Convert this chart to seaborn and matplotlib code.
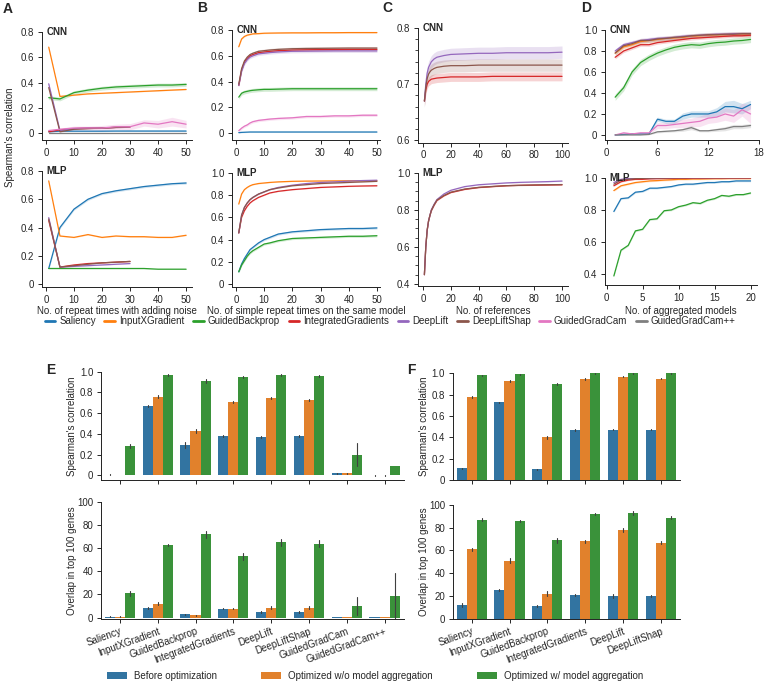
import numpy as np
import pandas as pd
import matplotlib
matplotlib.use("Agg")
import matplotlib.pyplot as plt
import seaborn as sns
from matplotlib.ticker import AutoMinorLocator, FuncFormatter, FixedLocator
from matplotlib.lines import Line2D
from matplotlib.patches import Patch

sns.set_style("ticks")
plt.rcParams['font.family'] = ['Liberation Sans', 'DejaVu Sans']
plt.rcParams['axes.linewidth'] = 0.7
plt.rcParams['xtick.major.width'] = 0.7
plt.rcParams['ytick.major.width'] = 0.7
plt.rcParams['xtick.major.size'] = 3
plt.rcParams['ytick.major.size'] = 3
plt.rcParams['ytick.minor.size'] = 2
plt.rcParams['ytick.minor.width'] = 0.6
plt.rcParams['xtick.major.pad'] = 2.5
plt.rcParams['ytick.major.pad'] = 2.5
plt.rcParams['axes.edgecolor'] = '#222222'

methods = ["Saliency", "InputXGradient", "GuidedBackprop", "IntegratedGradients",
           "DeepLift", "DeepLiftShap", "GuidedGradCam", "GuidedGradCam++"]
palette = dict(zip(methods, sns.color_palette("tab10", 8)))

# ---------------- Panel A: repeat times with adding noise ----------------
A_x = [1, 5, 10, 15, 20, 25, 30, 35, 40, 45, 50]
A_x30 = [1, 5, 10, 15, 20, 25, 30]
A_cnn = {
    "Saliency": (A_x, [0.01, 0.015, 0.015, 0.015, 0.015, 0.016, 0.016, 0.016, 0.016, 0.016, 0.016], 0.004),
    "InputXGradient": (A_x, [0.68, 0.29, 0.30, 0.31, 0.315, 0.32, 0.325, 0.33, 0.335, 0.34, 0.345], 0.003),
    "GuidedBackprop": (A_x, [0.28, 0.27, 0.32, 0.34, 0.355, 0.365, 0.37, 0.375, 0.38, 0.38, 0.385], 0.015),
    "IntegratedGradients": (A_x30, [0.01, 0.025, 0.035, 0.04, 0.04, 0.045, 0.05], 0.004),
    "DeepLift": (A_x30, [0.39, 0.02, 0.035, 0.04, 0.04, 0.045, 0.05], 0.004),
    "DeepLiftShap": (A_x30, [0.36, 0.01, 0.03, 0.035, 0.04, 0.045, 0.05], 0.004),
    "GuidedGradCam": (A_x, [0.02, 0.03, 0.04, 0.04, 0.04, 0.05, 0.05, 0.08, 0.07, 0.09, 0.07],
                      [0.005, 0.01, 0.015, 0.015, 0.02, 0.02, 0.025, 0.025, 0.03, 0.035, 0.03]),
    "GuidedGradCam++": (A_x, [0.0] * 11, 0.0),
}
A_mlp = {
    "Saliency": (A_x, [0.11, 0.40, 0.53, 0.60, 0.64, 0.66, 0.675, 0.69, 0.70, 0.71, 0.715], 0.008),
    "InputXGradient": (A_x, [0.73, 0.34, 0.33, 0.35, 0.33, 0.34, 0.335, 0.335, 0.33, 0.33, 0.345], 0.003),
    "GuidedBackprop": (A_x, [0.11, 0.11, 0.11, 0.11, 0.11, 0.11, 0.11, 0.11, 0.105, 0.105, 0.105], 0.002),
    "IntegratedGradients": (A_x30, [0.45, 0.12, 0.135, 0.145, 0.15, 0.155, 0.16], 0.002),
    "DeepLift": (A_x30, [0.47, 0.12, 0.125, 0.13, 0.135, 0.14, 0.145], 0.002),
    "DeepLiftShap": (A_x30, [0.46, 0.12, 0.13, 0.14, 0.15, 0.155, 0.16], 0.002),
}

# ---------------- Panel B: simple repeat times ----------------
B_x = [1, 2, 3, 4, 5, 6, 8, 10, 12, 15, 20, 25, 30, 35, 40, 45, 50]
B_cnn = {
    "Saliency": (B_x, [0.005, 0.007, 0.008, 0.009, 0.01, 0.01, 0.01, 0.01, 0.01, 0.01, 0.01, 0.01, 0.01, 0.01, 0.01, 0.01, 0.01], 0.003),
    "InputXGradient": (B_x, [0.67, 0.73, 0.75, 0.76, 0.765, 0.77, 0.772, 0.775, 0.776, 0.777, 0.778, 0.778, 0.779, 0.779, 0.78, 0.78, 0.78], 0.004),
    "GuidedBackprop": (B_x, [0.28, 0.31, 0.32, 0.325, 0.33, 0.333, 0.337, 0.34, 0.34, 0.342, 0.345, 0.345, 0.345, 0.345, 0.345, 0.345, 0.345], 0.015),
    "IntegratedGradients": (B_x, [0.37, 0.49, 0.55, 0.58, 0.60, 0.61, 0.625, 0.63, 0.635, 0.64, 0.645, 0.647, 0.648, 0.649, 0.65, 0.65, 0.65], 0.008),
    "DeepLift": (B_x, [0.37, 0.48, 0.54, 0.57, 0.59, 0.60, 0.615, 0.62, 0.625, 0.63, 0.635, 0.636, 0.637, 0.638, 0.638, 0.638, 0.638], 0.012),
    "DeepLiftShap": (B_x, [0.38, 0.50, 0.56, 0.59, 0.61, 0.62, 0.635, 0.64, 0.645, 0.65, 0.655, 0.657, 0.658, 0.659, 0.66, 0.66, 0.66], 0.012),
    "GuidedGradCam": (B_x, [0.02, 0.04, 0.055, 0.065, 0.08, 0.09, 0.10, 0.105, 0.11, 0.115, 0.12, 0.13, 0.13, 0.135, 0.135, 0.14, 0.14], 0.01),
}
B_mlp = {
    "Saliency": (B_x, [0.11, 0.18, 0.23, 0.27, 0.31, 0.33, 0.37, 0.40, 0.42, 0.45, 0.47, 0.48, 0.49, 0.495, 0.50, 0.50, 0.505], 0.01),
    "InputXGradient": (B_x, [0.72, 0.81, 0.85, 0.87, 0.885, 0.895, 0.905, 0.91, 0.915, 0.92, 0.925, 0.927, 0.928, 0.929, 0.93, 0.93, 0.93], 0.003),
    "GuidedBackprop": (B_x, [0.11, 0.17, 0.21, 0.25, 0.28, 0.30, 0.33, 0.36, 0.37, 0.39, 0.41, 0.415, 0.42, 0.425, 0.43, 0.43, 0.435], 0.01),
    "IntegratedGradients": (B_x, [0.46, 0.60, 0.66, 0.70, 0.73, 0.75, 0.78, 0.80, 0.82, 0.835, 0.85, 0.86, 0.87, 0.875, 0.88, 0.883, 0.885], 0.003),
    "DeepLift": (B_x, [0.46, 0.62, 0.69, 0.73, 0.76, 0.78, 0.81, 0.83, 0.85, 0.87, 0.89, 0.905, 0.915, 0.92, 0.927, 0.932, 0.935], 0.003),
    "DeepLiftShap": (B_x, [0.46, 0.62, 0.69, 0.73, 0.76, 0.78, 0.81, 0.83, 0.85, 0.865, 0.885, 0.895, 0.905, 0.91, 0.915, 0.92, 0.925], 0.003),
}

# ---------------- Panel C: number of references ----------------
C_x = [1, 2, 3, 4, 5, 6, 8, 10, 15, 20, 30, 40, 50, 60, 70, 80, 90, 100]
C_cnn = {
    "IntegratedGradients": (C_x, [0.67, 0.69, 0.70, 0.705, 0.707, 0.709, 0.71, 0.711, 0.712, 0.713, 0.713, 0.713, 0.714, 0.714, 0.714, 0.714, 0.714, 0.714], 0.008),
    "DeepLift": (C_x, [0.67, 0.70, 0.72, 0.73, 0.735, 0.74, 0.745, 0.748, 0.751, 0.753, 0.754, 0.755, 0.755, 0.756, 0.756, 0.756, 0.756, 0.757], 0.011),
    "DeepLiftShap": (C_x, [0.67, 0.695, 0.71, 0.718, 0.722, 0.725, 0.728, 0.73, 0.732, 0.733, 0.733, 0.734, 0.734, 0.734, 0.734, 0.734, 0.734, 0.734], 0.011),
}
C_mlp = {
    "IntegratedGradients": (C_x, [0.45, 0.60, 0.69, 0.74, 0.77, 0.795, 0.825, 0.85, 0.875, 0.893, 0.91, 0.92, 0.925, 0.93, 0.932, 0.933, 0.934, 0.935], 0.002),
    "DeepLift": (C_x, [0.45, 0.60, 0.69, 0.74, 0.77, 0.80, 0.83, 0.855, 0.885, 0.905, 0.925, 0.935, 0.94, 0.945, 0.948, 0.95, 0.952, 0.955], 0.002),
    "DeepLiftShap": (C_x, [0.45, 0.60, 0.69, 0.74, 0.77, 0.797, 0.827, 0.852, 0.877, 0.895, 0.912, 0.921, 0.926, 0.93, 0.932, 0.934, 0.935, 0.936], 0.002),
}

# ---------------- Panel D: number of aggregated models ----------------
D_x1 = list(range(1, 18))
D_x2 = list(range(1, 21))
D_cnn = {
    "Saliency": (D_x1, [0.0, 0.005, 0.01, 0.01, 0.01, 0.15, 0.13, 0.13, 0.18, 0.20, 0.20, 0.20, 0.22, 0.27, 0.27, 0.25, 0.29],
                 [0.0, 0.005, 0.005, 0.005, 0.005, 0.02, 0.02, 0.02, 0.03, 0.03, 0.03, 0.03, 0.04, 0.05, 0.06, 0.05, 0.04]),
    "InputXGradient": (D_x1, [0.78, 0.84, 0.86, 0.89, 0.90, 0.91, 0.92, 0.925, 0.93, 0.94, 0.945, 0.95, 0.955, 0.955, 0.96, 0.96, 0.96], 0.02),
    "GuidedBackprop": (D_x1, [0.36, 0.45, 0.60, 0.69, 0.74, 0.78, 0.81, 0.835, 0.85, 0.86, 0.855, 0.87, 0.88, 0.885, 0.895, 0.90, 0.91], 0.03),
    "IntegratedGradients": (D_x1, [0.74, 0.80, 0.83, 0.86, 0.86, 0.88, 0.89, 0.90, 0.91, 0.92, 0.925, 0.93, 0.935, 0.94, 0.945, 0.945, 0.95], 0.015),
    "DeepLift": (D_x1, [0.80, 0.86, 0.88, 0.90, 0.91, 0.92, 0.925, 0.93, 0.94, 0.945, 0.95, 0.955, 0.96, 0.96, 0.965, 0.965, 0.965], 0.02),
    "DeepLiftShap": (D_x1, [0.78, 0.85, 0.87, 0.90, 0.90, 0.915, 0.92, 0.93, 0.935, 0.945, 0.95, 0.955, 0.955, 0.96, 0.96, 0.965, 0.965], 0.02),
    "GuidedGradCam": (D_x1, [0.0, 0.02, 0.01, 0.02, 0.02, 0.09, 0.09, 0.10, 0.11, 0.12, 0.13, 0.16, 0.17, 0.20, 0.18, 0.24, 0.20],
                      [0.003, 0.01, 0.01, 0.01, 0.01, 0.03, 0.03, 0.03, 0.04, 0.04, 0.05, 0.05, 0.05, 0.06, 0.06, 0.06, 0.09]),
    "GuidedGradCam++": (D_x1, [0.0, 0.0, 0.0, 0.0, 0.005, 0.03, 0.035, 0.04, 0.05, 0.07, 0.04, 0.04, 0.05, 0.06, 0.08, 0.08, 0.09],
                        [0.0, 0.0, 0.0, 0.0, 0.003, 0.01, 0.01, 0.01, 0.015, 0.02, 0.01, 0.01, 0.015, 0.02, 0.02, 0.02, 0.02]),
}
D_mlp = {
    "Saliency": (D_x2, [0.79, 0.87, 0.875, 0.91, 0.915, 0.935, 0.935, 0.94, 0.945, 0.955, 0.96, 0.96, 0.965, 0.97, 0.97, 0.975, 0.975, 0.98, 0.98, 0.98], 0.005),
    "InputXGradient": (D_x2, [0.92, 0.95, 0.96, 0.97, 0.975, 0.98, 0.982, 0.985, 0.987, 0.99, 0.99, 0.992, 0.992, 0.993, 0.994, 0.994, 0.995, 0.995, 0.995, 0.995], 0.005),
    "GuidedBackprop": (D_x2, [0.39, 0.55, 0.58, 0.67, 0.68, 0.74, 0.745, 0.795, 0.80, 0.82, 0.83, 0.845, 0.84, 0.86, 0.87, 0.89, 0.885, 0.895, 0.895, 0.905], 0.005),
    "IntegratedGradients": (D_x2, [0.95, 0.975, 0.985, 0.99, 0.99, 0.993, 0.994, 0.995, 0.995, 0.996, 0.996, 0.997, 0.997, 0.997, 0.998, 0.998, 0.998, 0.998, 0.998, 0.998], 0.003),
    "DeepLift": (D_x2, [0.97, 0.99, 0.995, 0.997, 0.998, 0.998, 0.999, 0.999, 0.999, 0.999, 1.0, 1.0, 1.0, 1.0, 1.0, 1.0, 1.0, 1.0, 1.0, 1.0], 0.003),
    "DeepLiftShap": (D_x2, [0.96, 0.985, 0.99, 0.994, 0.996, 0.997, 0.998, 0.998, 0.999, 0.999, 0.999, 1.0, 1.0, 1.0, 1.0, 1.0, 1.0, 1.0, 1.0, 1.0], 0.003),
}

# ---------------- Panels E / F: bars ----------------
groups = ["Before optimization", "Optimized w/o model aggregation", "Optimized w/ model aggregation"]
E_methods = methods
E_corr = [[0.005, 0.003, 0.28], [0.67, 0.76, 0.97], [0.29, 0.43, 0.91], [0.38, 0.71, 0.95],
          [0.37, 0.75, 0.97], [0.38, 0.73, 0.96], [0.02, 0.02, 0.20], [0.0, 0.0, 0.09]]
E_corr_err = [[0.005, 0.003, 0.02], [0.01, 0.015, 0.01], [0.03, 0.02, 0.015], [0.01, 0.01, 0.01],
              [0.01, 0.01, 0.01], [0.01, 0.01, 0.01], [0.005, 0.005, 0.11], [0.002, 0.002, 0.0]]
E_ovl = [[0.8, 0.8, 21], [8, 12, 63], [3, 2, 72], [7.5, 7.5, 53],
         [5, 8.5, 65], [5, 8.5, 64], [0.5, 0.5, 10], [0.3, 0.3, 19]]
E_ovl_err = [[0.3, 0.3, 2], [1, 1.5, 1], [0.5, 0.5, 3], [0.5, 0.5, 3],
             [1, 1.5, 3], [1, 1.5, 3], [0.3, 0.3, 8], [0.2, 0.2, 20]]
F_methods = methods[:6]
F_corr = [[0.11, 0.78, 0.98], [0.73, 0.93, 0.99], [0.10, 0.40, 0.90],
          [0.47, 0.95, 1.0], [0.47, 0.97, 1.0], [0.47, 0.95, 1.0]]
F_corr_err = [[0.005, 0.01, 0.005], [0.005, 0.01, 0.005], [0.005, 0.015, 0.005],
              [0.008, 0.01, 0.003], [0.005, 0.008, 0.003], [0.005, 0.008, 0.003]]
F_ovl = [[12, 61, 87], [25, 51, 86], [11, 22, 69], [21, 68, 92], [20, 78, 93], [20, 67, 89]]
F_ovl_err = [[1.5, 1.5, 1.5], [1, 2, 1], [1, 2, 2], [1, 1.5, 1], [1.5, 1.5, 1.5], [1.2, 1.5, 1.2]]

# ======================= drawing =======================
W, H = 766, 683
fig = plt.figure(figsize=(W / 100, H / 100), dpi=100)


def add_ax(l, t, r, b):
    return fig.add_axes([l / W, 1 - b / H, (r - l) / W, (b - t) / H])


fmt1 = FuncFormatter(lambda v, p: "0" if abs(v) < 1e-9 else f"{v:.1f}")
FS = 7


def line_panel(ax, series, xlim, ylim, yticks, xticks, title):
    rows = []
    for m, (xs, ys, w) in series.items():
        ws = w if isinstance(w, list) else [w] * len(xs)
        for xv, yv, wv in zip(xs, ys, ws):
            rows.append((m, xv, yv - wv))
            rows.append((m, xv, yv + wv))
    df = pd.DataFrame(rows, columns=["method", "x", "y"])
    order = [m for m in methods if m in series]
    sns.lineplot(data=df, x="x", y="y", hue="method", hue_order=order, palette=palette,
                 estimator="mean", errorbar=("pi", 100), err_kws={"alpha": 0.2, "linewidth": 0},
                 linewidth=0.9, legend=False, ax=ax)
    ax.set_xlim(*xlim)
    ax.set_ylim(*ylim)
    ax.yaxis.set_major_locator(FixedLocator(yticks))
    ax.yaxis.set_major_formatter(fmt1)
    ax.xaxis.set_major_locator(FixedLocator(xticks))
    ax.set_xlabel("")
    ax.set_ylabel("")
    ax.tick_params(labelsize=FS)
    sns.despine(ax=ax)
    ax.text(0.03, 1.0, title, transform=ax.transAxes, fontsize=FS, fontweight="bold",
            va="center", ha="left")


t4 = [0, 0.2, 0.4, 0.6, 0.8]
t5 = [0, 0.2, 0.4, 0.6, 0.8, 1.0]
x50 = [0, 10, 20, 30, 40, 50]

axA1 = add_ax(42, 32, 192, 140)
line_panel(axA1, A_cnn, (-1.4, 52.1), (-0.055, 0.8), t4, x50, "CNN")
axA2 = add_ax(42, 171, 192, 287)
line_panel(axA2, A_mlp, (-1.4, 52.1), (-0.021, 0.8), t4, x50, "MLP")

axB1 = add_ax(232, 30, 380, 140)
line_panel(axB1, B_cnn, (-1.4, 51.1), (-0.052, 0.8), t4, x50, "CNN")
axB2 = add_ax(232, 173, 380, 287)
line_panel(axB2, B_mlp, (-1.4, 51.1), (-0.027, 1.0), t5, x50, "MLP")

axC1 = add_ax(418, 28, 568, 142.7)
line_panel(axC1, C_cnn, (-3.6, 104.3), (0.596, 0.8), [0.6, 0.7, 0.8], [0, 20, 40, 60, 80, 100], "CNN")
axC1.yaxis.set_minor_locator(AutoMinorLocator(5))
axC2 = add_ax(418, 172.7, 568, 286)
line_panel(axC2, C_mlp, (-3.6, 104.3), (0.389, 1.0), [0.4, 0.6, 0.8, 1.0], [0, 20, 40, 60, 80, 100], "MLP")
axC2.yaxis.set_minor_locator(AutoMinorLocator(4))

axD1 = add_ax(605, 30, 759, 140)
line_panel(axD1, D_cnn, (-0.2, 18), (-0.048, 1.0), t5, [0, 6, 12, 18], "CNN")
axD2 = add_ax(605, 177.7, 757, 285)
line_panel(axD2, D_mlp, (-0.23, 20.9), (0.334, 1.0), [0.4, 0.6, 0.8, 1.0], [0, 5, 10, 15, 20], "MLP")

for ax, lab in [(axA2, "No. of repeat times with adding noise"),
                (axB2, "No. of simple repeat times on the same model"),
                (axC2, "No. of references"),
                (axD2, "No. of aggregated models")]:
    ax.set_xlabel(lab, fontsize=FS)
    pos = ax.get_position()
    bottom_px = H - pos.y0 * H
    ax.xaxis.set_label_coords(0.5, -(306 - bottom_px) / (pos.height * H))

fig.text(10 / W, 1 - 137 / H, "Spearman's correlation", rotation=90, va="center", ha="center", fontsize=FS)

# top legend
handles = [Line2D([0], [0], color=palette[m], lw=2) for m in methods]
fig.legend(handles, methods, loc="center", bbox_to_anchor=(390 / W, 1 - 321 / H), ncol=8,
           frameon=False, fontsize=FS, handlelength=1.1, handletextpad=0.4, columnspacing=0.9)

bar_colors = sns.color_palette("tab10", 3)


def bar_panel(ax, cats, vals, errs, ylim, yticks, fmt, showlabels):
    rows = []
    for c, vrow, erow in zip(cats, vals, errs):
        for g, v, e in zip(groups, vrow, erow):
            rows.append((c, g, v - e))
            rows.append((c, g, v + e))
    df = pd.DataFrame(rows, columns=["method", "group", "value"])
    sns.barplot(data=df, x="method", y="value", hue="group", order=cats, hue_order=groups,
                palette=bar_colors, estimator="mean", errorbar=("pi", 100),
                err_kws={"linewidth": 0.8, "color": ".25"}, legend=False, ax=ax, width=0.8,
                linewidth=0, edgecolor="none")
    ax.set_xlim(-0.5, len(cats) - 0.5)
    ax.set_ylim(*ylim)
    ax.yaxis.set_major_locator(FixedLocator(yticks))
    if fmt is not None:
        ax.yaxis.set_major_formatter(fmt)
    ax.set_xlabel("")
    ax.tick_params(labelsize=FS)
    ax.set_xticks(range(len(cats)))
    if showlabels:
        ax.set_xticklabels(cats, rotation=20, ha="right", rotation_mode="anchor", fontsize=FS)
    else:
        ax.set_xticklabels([])
    sns.despine(ax=ax)


def ylab(ax, text, xpx):
    pos = ax.get_position()
    ax.set_ylabel(text, fontsize=FS)
    ax.yaxis.set_label_coords((xpx - pos.x0 * W) / (pos.width * W), 0.5)


ov_ticks = [0, 20, 40, 60, 80, 100]
axE1 = add_ax(101, 371.7, 403.5, 480)
bar_panel(axE1, E_methods, E_corr, E_corr_err, (-0.045, 1.0), t5, fmt1, False)
ylab(axE1, "Spearman's correlation", 77)
axE2 = add_ax(101, 502, 403.5, 618.5)
bar_panel(axE2, E_methods, E_ovl, E_ovl_err, (-0.8, 100), ov_ticks, None, True)
ylab(axE2, "Overlap in top 100 genes", 77)

axF1 = add_ax(452.8, 373.3, 679.6, 480)
bar_panel(axF1, F_methods, F_corr, F_corr_err, (0, 1.0), t5, fmt1, False)
ylab(axF1, "Spearman's correlation", 429)
axF2 = add_ax(452.8, 505, 679.6, 618.7)
bar_panel(axF2, F_methods, F_ovl, F_ovl_err, (0, 100), ov_ticks, None, True)
ylab(axF2, "Overlap in top 100 genes", 429)

# bottom legend
phandles = [Patch(facecolor=c, edgecolor="none") for c in sns.color_palette(bar_colors, desat=0.75)]
fig.legend(phandles, groups, loc="center", bbox_to_anchor=(375 / W, 1 - 676 / H), ncol=3,
           frameon=False, fontsize=FS, handlelength=2.1, handleheight=0.75, handletextpad=0.7,
           columnspacing=4.5)

# panel letters
for lab, xp, yp in [("A", 8, 9), ("B", 202, 8), ("C", 387, 8), ("D", 586, 8), ("E", 51, 370), ("F", 411, 370)]:
    fig.text(xp / W, 1 - yp / H, lab, fontsize=10, fontweight="bold", ha="center", va="center")

fig.savefig("out.png", dpi=100)
